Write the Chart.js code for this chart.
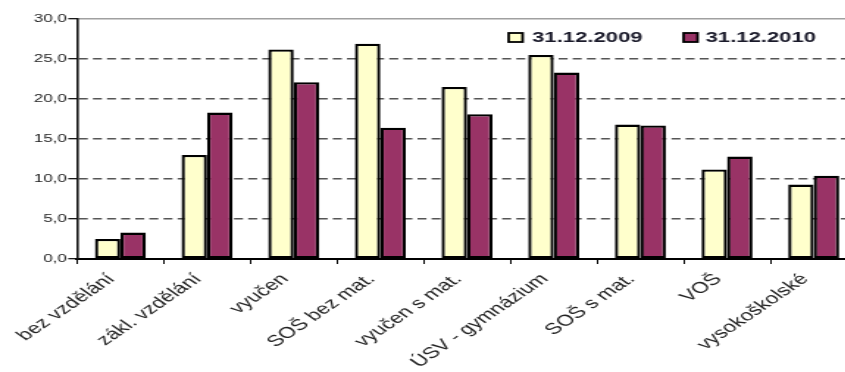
<!DOCTYPE html>
<html>
<head>
<meta charset="utf-8">
<script src="https://cdn.jsdelivr.net/npm/chart.js@4/dist/chart.umd.min.js"></script>
<style>
  html, body { margin: 0; padding: 0; background: #fff; overflow: hidden; }
  /* the chart is laid out narrow and stretched sideways */
  #wrap { position: absolute; left: 0; top: 0; width: 583px; height: 372px; transform: scaleX(1.47); transform-origin: 0 0; }
</style>
</head>
<body>
<div id="wrap"><canvas id="chart"></canvas></div>
<script>
const labels = ['bez vzdělání', 'zákl. vzdělání', 'vyučen', 'SOŠ bez mat.', 'vyučen s mat.', 'ÚSV - gymnázium', 'SOŠ s mat.', 'VOŠ', 'vysokoškolské'];
const values2009 = [2.5, 13.0, 26.2, 26.9, 21.5, 25.5, 16.8, 11.2, 9.3];
const values2010 = [3.3, 18.3, 22.1, 16.4, 18.1, 23.3, 16.7, 12.8, 10.4];
const seriesNames = ['31.12.2009', '31.12.2010'];
const seriesColors = ['#FFFFCC', '#993366'];
const yTicks = [0, 5, 10, 15, 20, 25, 30];

const FONT = "'Liberation Sans', Arial, sans-serif";

// legend sits inside the plot, top right
const legendInPlot = {
  id: 'legendInPlot',
  afterDraw(chart) {
    const ctx = chart.ctx;
    const items = [
      { box: 346, text: 362 },
      { box: 465, text: 480 }
    ];
    ctx.save();
    ctx.font = 'bold 15px ' + FONT;
    ctx.textBaseline = 'middle';
    items.forEach((it, i) => {
      ctx.fillStyle = seriesColors[i];
      ctx.fillRect(it.box, 33, 9.5, 9);
      ctx.lineWidth = 1.8;
      ctx.strokeStyle = '#000';
      ctx.strokeRect(it.box, 33, 9.5, 9);
      ctx.fillStyle = '#1a1a2a';
      ctx.fillText(seriesNames[i], it.text, 38);
    });
    ctx.restore();
  }
};

const barStyle = {
  borderColor: '#000',
  borderWidth: 2.3,
  borderSkipped: false,
  categoryPercentage: 0.588,
  barPercentage: 1.0
};

new Chart(document.getElementById('chart'), {
  type: 'bar',
  data: {
    labels: labels,
    datasets: [
      Object.assign({ label: seriesNames[0], data: values2009, backgroundColor: seriesColors[0] }, barStyle),
      Object.assign({ label: seriesNames[1], data: values2010, backgroundColor: seriesColors[1] }, barStyle)
    ]
  },
  options: {
    responsive: true,
    maintainAspectRatio: false,
    animation: false,
    layout: { padding: { top: 19, left: 0, right: 0, bottom: 0 } },
    plugins: {
      legend: { display: false },
      tooltip: { enabled: false }
    },
    scales: {
      x: {
        offset: true,
        grid: {
          offset: true,
          drawOnChartArea: false,
          drawTicks: true,
          tickLength: 5,
          tickColor: '#000',
          tickWidth: 1
        },
        border: { display: true, color: '#000', width: 2 },
        ticks: {
          autoSkip: false,
          minRotation: 45,
          maxRotation: 45,
          padding: 6,
          labelOffset: -6,
          color: '#222',
          font: { family: FONT, size: 15.5 }
        },
        afterFit(scale) { scale.height = 113; }
      },
      y: {
        min: 0,
        max: 30,
        afterBuildTicks(scale) { scale.ticks = yTicks.map(v => ({ value: v })); },
        grid: {
          color: ctx => {
            const v = ctx.tick ? ctx.tick.value : null;
            if (v === 0) return 'rgba(0,0,0,0)';
            if (v === 30) return '#a0a0a0';
            return '#555';
          },
          lineWidth: 1.4,
          drawTicks: true,
          tickLength: 6,
          tickColor: '#000',
          tickWidth: 1.2
        },
        border: {
          display: true,
          color: '#111',
          width: 1.6,
          dash: ctx => (ctx.tick && ctx.tick.value > 0 && ctx.tick.value < 30) ? [6.1, 3.5] : []
        },
        ticks: {
          padding: 1,
          color: '#222',
          font: { family: FONT, size: 11.5 },
          callback: v => v.toFixed(1).replace('.', ',')
        },
        afterFit(scale) { scale.width = 52.4; }
      }
    }
  },
  plugins: [legendInPlot]
});
</script>
</body>
</html>
